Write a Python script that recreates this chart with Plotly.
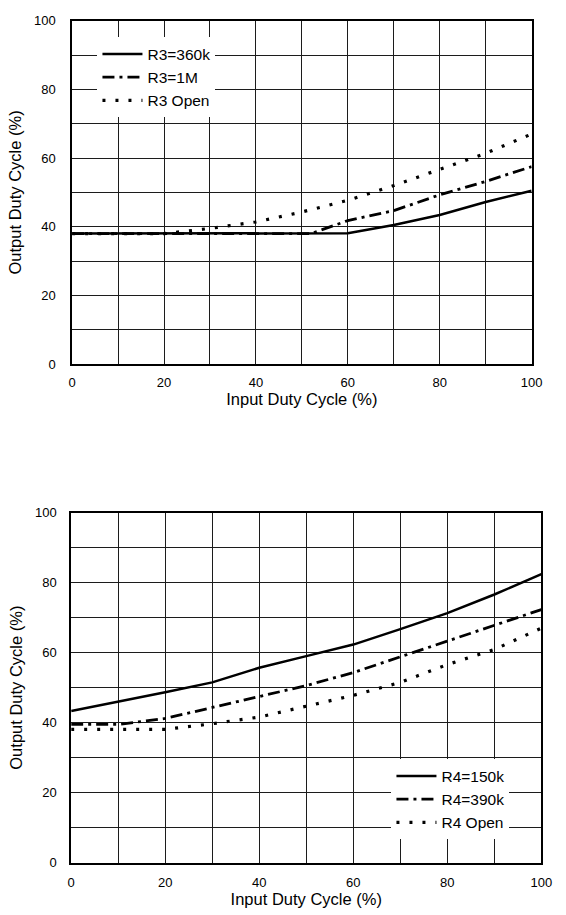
import plotly.graph_objects as go

# ---- data ----
x_in = [0, 10, 20, 30, 40, 50, 60, 70, 80, 90, 100]

top_names = ["R3=360k", "R3=1M", "R3 Open"]
r3_360k = [38, 38, 38, 38, 38, 38, 38.1, 40.5, 43.4, 47.2, 50.5]
r3_1m_x = [0, 10, 20, 30, 40, 50, 52, 60, 70, 80, 90, 100]
r3_1m = [38, 38, 38, 38, 38, 38, 38, 41.8, 44.7, 49.3, 53.2, 57.5]
r3_open = [38, 38, 38, 39.5, 41.4, 44.3, 47.7, 52.0, 56.7, 61.4, 67.0]

bot_names = ["R4=150k", "R4=390k", "R4 Open"]
r4_150k = [43.3, 45.9, 48.7, 51.5, 55.7, 59.0, 62.3, 66.7, 71.3, 76.6, 82.4]
r4_390k = [39.5, 39.5, 41.2, 44.3, 47.6, 50.6, 54.3, 58.8, 63.2, 67.9, 72.3]
r4_open = [38.1, 38.1, 38.1, 39.7, 41.6, 44.7, 47.8, 51.5, 56.6, 60.9, 67.0]

tick_vals = [0, 10, 20, 30, 40, 50, 60, 70, 80, 90, 100]
tick_text = ["0", "", "20", "", "40", "", "60", "", "80", "", "100"]

x_title = "Input Duty Cycle (%)"
y_title = "Output Duty Cycle (%)"

# ---- styles ----
FONT = "Liberation Sans, Arial, sans-serif"
solid = dict(color="black", width=2.5, dash="solid")
dashdot = dict(color="black", width=2.8, dash="12px,5px,3px,5px")
dotted = dict(color="black", width=3.2, dash="3px,10px")

fig = go.Figure()

fig.add_trace(go.Scatter(x=x_in, y=r3_360k, mode="lines", name=top_names[0],
                         line=solid, xaxis="x", yaxis="y", legend="legend"))
fig.add_trace(go.Scatter(x=r3_1m_x, y=r3_1m, mode="lines", name=top_names[1],
                         line=dashdot, xaxis="x", yaxis="y", legend="legend"))
fig.add_trace(go.Scatter(x=x_in, y=r3_open, mode="lines", name=top_names[2],
                         line=dotted, xaxis="x", yaxis="y", legend="legend"))

fig.add_trace(go.Scatter(x=x_in, y=r4_150k, mode="lines", name=bot_names[0],
                         line=solid, xaxis="x2", yaxis="y2", legend="legend2"))
fig.add_trace(go.Scatter(x=x_in, y=r4_390k, mode="lines", name=bot_names[1],
                         line=dashdot, xaxis="x2", yaxis="y2", legend="legend2"))
fig.add_trace(go.Scatter(x=x_in, y=r4_open, mode="lines", name=bot_names[2],
                         line=dotted, xaxis="x2", yaxis="y2", legend="legend2"))

W, H = 566, 915
GRID = "#1c1c1c"


def ax_common():
    return dict(
        range=[0, 100], tickmode="array", tickvals=tick_vals, ticktext=tick_text,
        showgrid=True, gridcolor=GRID, gridwidth=1,
        showline=True, mirror=True, linecolor="black", linewidth=1.5,
        ticks="", zeroline=False, fixedrange=True,
        tickfont=dict(family=FONT, size=13, color="black"),
    )


def xa(domain, anchor, standoff):
    d = ax_common()
    d.update(domain=domain, anchor=anchor, ticklabelstandoff=standoff,
             title=dict(text=x_title, font=dict(family=FONT, size=16.5, color="black"), standoff=2))
    return d


def ya(domain, anchor, standoff):
    d = ax_common()
    d.update(domain=domain, anchor=anchor, ticklabelstandoff=standoff,
             title=dict(text=y_title, font=dict(family=FONT, size=16.5, color="black"), standoff=8))
    return d


fig.update_layout(
    width=W, height=H,
    margin=dict(l=0, r=0, t=0, b=0),
    paper_bgcolor="white", plot_bgcolor="white",
    font=dict(family=FONT, color="black"),
    xaxis=xa([70 / W, 542 / W], "y", 6),
    yaxis=ya([1 - 363 / H, 1 - 14 / H], "x", 12),
    xaxis2=xa([69 / W, 552 / W], "y2", 7),
    yaxis2=ya([1 - 870 / H, 1 - 514 / H], "x2", 10),
    legend=dict(x=96 / W, y=1 - 31 / H, xanchor="left", yanchor="top",
                bgcolor="white", borderwidth=0,
                font=dict(family=FONT, size=15.5, color="black"),
                itemwidth=40, tracegroupgap=0),
    legend2=dict(x=398 / W, y=1 - 765 / H, xanchor="left", yanchor="top",
                 bgcolor="white", borderwidth=0,
                 font=dict(family=FONT, size=15.5, color="black"),
                 itemwidth=40, tracegroupgap=0),
    showlegend=True,
)

fig.write_html("out.html")
